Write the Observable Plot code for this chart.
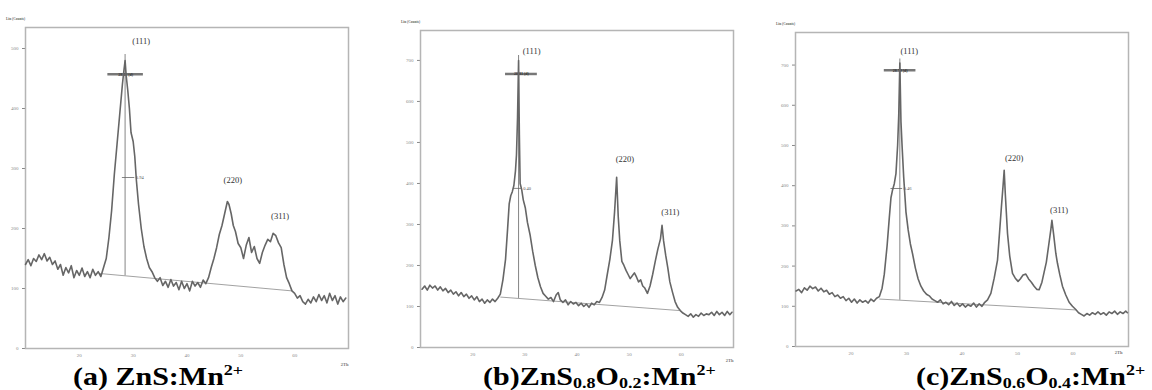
<!DOCTYPE html>
<html>
<head>
<meta charset="utf-8">
<script src="https://cdn.jsdelivr.net/npm/d3@7"></script>
<script src="https://cdn.jsdelivr.net/npm/@observablehq/plot@0.6"></script>
<style>
  html, body { margin: 0; padding: 0; background: #fff; }
  #fig { position: relative; width: 1152px; height: 390px; overflow: hidden; }
  .panel { position: absolute; top: 0; }
  .cap { position: absolute; font-family: "Liberation Serif", "Times New Roman", serif; font-weight: bold; font-size: 25px; color: #000; white-space: nowrap; line-height: 1; transform: scaleX(1.2); transform-origin: left top; }
  .cap sup { font-size: 15px; vertical-align: 10px; }
  .cap sub { font-size: 15px; vertical-align: -3px; }
</style>
</head>
<body>
<div id="fig"></div>
<script>
// ---- data: 2-theta (deg) vs intensity (counts) ----
const xrdA = [[10,140],[10.5,148],[11,138],[11.5,150],[12,145],[12.5,156],[13,148],[13.5,158],[14,146],[14.5,152],[15,140],[15.5,146],[16,132],[16.5,140],[17,122],[17.5,135],[18,126],[18.5,138],[19,118],[19.5,130],[20,122],[20.5,134],[21,120],[21.5,128],[22,118],[22.5,132],[23,122],[23.5,128],[24,120],[24.5,135],[25,150],[25.5,185],[26,230],[26.5,290],[27,340],[27.5,390],[27.8,420],[28,440],[28.3,465],[28.5,480],[28.7,455],[29,430],[29.3,400],[29.6,360],[30,345],[30.3,320],[30.6,280],[31,240],[31.5,200],[32,170],[32.5,150],[33,135],[33.5,128],[34,118],[34.5,112],[35,118],[35.5,105],[36,112],[36.5,102],[37,115],[37.5,104],[38,110],[38.5,98],[39,112],[39.5,100],[40,108],[40.5,96],[41,112],[41.5,104],[42,110],[42.5,102],[43,114],[43.5,108],[44,118],[44.5,135],[45,150],[45.5,168],[46,190],[46.5,205],[47,225],[47.5,245],[47.8,240],[48.2,225],[48.6,205],[49,195],[49.5,175],[50,168],[50.5,150],[51,172],[51.5,185],[52,160],[52.5,170],[53,150],[53.5,142],[54,160],[54.5,172],[55,182],[55.5,178],[56,192],[56.5,188],[57,176],[57.5,168],[58,140],[58.5,118],[59,108],[59.5,96],[60,92],[60.5,84],[61,88],[61.5,78],[62,74],[62.5,82],[63,76],[63.5,86],[64,78],[64.5,90],[65,80],[65.5,88],[66,76],[66.5,92],[67,80],[67.5,88],[68,74],[68.5,86],[69,78],[69.5,84]];
const xrdB = [[10.3,142],[10.8,150],[11.3,140],[11.8,152],[12.3,145],[12.8,150],[13.3,140],[13.8,148],[14.3,138],[14.8,144],[15.3,134],[15.8,140],[16.3,130],[16.8,136],[17.3,126],[17.8,134],[18.3,124],[18.8,130],[19.3,120],[19.8,126],[20.3,116],[20.8,124],[21.3,112],[21.8,118],[22.3,108],[22.8,116],[23.3,110],[23.8,118],[24.3,112],[24.8,120],[25.3,130],[25.8,165],[26.3,215],[26.7,290],[27,350],[27.3,370],[27.6,380],[27.9,395],[28.2,430],[28.4,470],[28.6,560],[28.8,700],[28.95,520],[29.1,400],[29.4,385],[29.7,360],[30.1,340],[30.5,305],[31,275],[31.5,235],[32,200],[32.5,170],[33,148],[33.5,132],[34,125],[34.5,118],[35,122],[35.5,112],[36,128],[36.4,134],[36.8,116],[37.3,110],[37.8,116],[38.3,104],[38.8,112],[39.3,106],[39.8,110],[40.3,102],[40.8,108],[41.3,100],[41.8,106],[42.3,98],[42.8,108],[43.3,104],[43.8,112],[44.3,110],[44.8,122],[45.3,140],[45.8,178],[46.3,215],[46.8,262],[47.2,330],[47.6,415],[47.9,320],[48.2,260],[48.6,210],[49,200],[49.4,188],[49.8,178],[50.2,168],[50.6,175],[51,182],[51.4,172],[51.8,160],[52.2,165],[52.6,150],[53,145],[53.5,132],[54,150],[54.5,178],[55,210],[55.5,240],[56,265],[56.3,298],[56.6,260],[57,225],[57.4,195],[57.8,160],[58.3,135],[58.8,112],[59.3,98],[59.8,90],[60.3,84],[60.8,80],[61.3,76],[61.8,82],[62.3,74],[62.8,80],[63.3,76],[63.8,84],[64.3,78],[64.8,82],[65.3,80],[65.8,86],[66.3,78],[66.8,88],[67.3,80],[67.8,86],[68.3,78],[68.8,88],[69.3,80],[69.7,86]];
const xrdC = [[10.1,138],[10.6,142],[11.1,134],[11.6,146],[12.1,140],[12.6,150],[13.1,144],[13.6,148],[14.1,138],[14.6,145],[15.1,136],[15.6,140],[16.1,130],[16.6,134],[17.1,124],[17.6,128],[18.1,120],[18.6,124],[19.1,114],[19.6,120],[20.1,110],[20.6,118],[21.1,108],[21.6,116],[22.1,110],[22.6,114],[23.1,108],[23.6,118],[24.1,112],[24.6,120],[25.1,124],[25.6,145],[26,180],[26.5,250],[26.9,320],[27.2,370],[27.5,390],[27.8,405],[28.1,430],[28.4,500],[28.6,575],[28.8,705],[29,560],[29.2,500],[29.5,420],[29.9,335],[30.3,290],[30.7,255],[31.1,230],[31.6,195],[32.1,168],[32.6,150],[33.1,138],[33.6,130],[34.1,126],[34.6,118],[35.1,114],[35.6,110],[36.1,116],[36.6,106],[37.1,110],[37.6,104],[38.1,112],[38.6,102],[39.1,108],[39.6,100],[40.1,106],[40.6,98],[41.1,104],[41.6,100],[42.1,108],[42.6,98],[43.1,106],[43.6,100],[44.1,110],[44.6,116],[45.2,132],[45.8,170],[46.4,215],[46.8,290],[47.1,347],[47.4,400],[47.6,438],[47.8,380],[48.2,281],[48.6,225],[49.1,182],[49.6,170],[50.1,162],[50.5,168],[51,178],[51.5,180],[52,168],[52.5,160],[53,150],[53.5,142],[53.9,141],[54.4,160],[54.8,185],[55.2,210],[55.6,250],[56,290],[56.2,314],[56.5,280],[56.9,232],[57.2,207],[57.6,180],[58.1,150],[58.7,128],[59.3,110],[59.9,100],[60.5,92],[61,84],[61.5,80],[62,76],[62.5,82],[63,78],[63.5,84],[64,80],[64.5,86],[65,80],[65.5,84],[66,78],[66.5,86],[67,82],[67.5,88],[68,80],[68.5,86],[69,82],[69.5,88],[69.8,84]];

// background lines [x1, y1, x2, y2]
const baseA = [23.8, 125, 59.5, 96];
const baseB = [25.3, 123, 59.7, 90];
const baseC = [25.1, 118, 60.5, 91];

// main peak marker: [2theta, top, crossbar y, crossbar x1, x2, fwhm y, fwhm x1, x2]
const markA = [28.5, 490, 457, 25.3, 31.9, 285, 28.0, 30.3];
const markB = [28.8, 712, 667, 26.3, 32.4, 388, 27.8, 29.5];
const markC = [28.8, 715, 687, 26.0, 31.7, 393, 27.2, 29.3];
const crossText = ["28.53 (d)", "28.81 (d)", "28.79 (d)"];
const fwhmText = ["0.94", "0.40", "0.46"];

// peak labels [x, y]
const hkl = ["(111)", "(220)", "(311)"];
const lblA = [[31.5, 512], [48.5, 280], [57.3, 220]];
const lblB = [[31.3, 722], [49.2, 458], [57.9, 330]];
const lblC = [[30.5, 735], [49.4, 468], [57.5, 338]];

const yTicksA = [0, 100, 200, 300, 400, 500];
const yTicksB = [0, 100, 200, 300, 400, 500, 600, 700];
const xTicks = [20, 30, 40, 50, 60];

const panels = [
  {data: xrdA, base: baseA, mark: markA, lbl: lblA, yTicks: yTicksA, yMax: 535, left: 0, ml: 25, mr: 36, mt: 27, mb: 42, i: 0, thDx: -4, thDy: 17},
  {data: xrdB, base: baseB, mark: markB, lbl: lblB, yTicks: yTicksB, yMax: 773, left: 384, ml: 36, mr: 35, mt: 30, mb: 43, i: 1, thDx: -4, thDy: 14},
  {data: xrdC, base: baseC, mark: markC, lbl: lblC, yTicks: yTicksB, yMax: 781, left: 768, ml: 27, mr: 24, mt: 32, mb: 44, i: 2, thDx: -10, thDy: 7}
];

const fig = document.getElementById("fig");
for (const p of panels) {
  const [bx1, by1, bx2, by2] = p.base;
  const [px, ptop, cy, cx1, cx2, fy, fx1, fx2] = p.mark;
  const baseAt = by1 + (by2 - by1) * (px - bx1) / (bx2 - bx1);
  const chart = Plot.plot({
    width: 384, height: 390,
    marginLeft: p.ml, marginRight: p.mr, marginTop: p.mt, marginBottom: p.mb,
    style: {fontFamily: "Liberation Serif, serif", fontSize: "5px", color: "#888", background: "transparent"},
    x: {domain: [10, 70], ticks: xTicks, tickSize: 0, tickPadding: 5, label: null},
    y: {domain: [0, p.yMax], ticks: p.yTicks, tickSize: 3, tickPadding: 4, label: null},
    marks: [
      Plot.frame({stroke: "#b5b5b5", strokeWidth: 1.5}),
      Plot.link([p.base], {x1: d => d[0], y1: d => d[1], x2: d => d[2], y2: d => d[3], stroke: "#8a8a8a", strokeWidth: 0.8}),
      Plot.ruleX([px], {y1: baseAt, y2: ptop, stroke: "#666", strokeWidth: 0.8}),
      Plot.ruleY([cy], {x1: cx1, x2: cx2, stroke: "#777", strokeWidth: 2.5}),
      Plot.text([crossText[p.i]], {x: (cx1 + cx2) / 2, y: cy, fontSize: 4, fill: "#333", fontWeight: "bold"}),
      Plot.ruleY([fy], {x1: fx1, x2: fx2, stroke: "#666", strokeWidth: 0.8}),
      Plot.text([fwhmText[p.i]], {x: fx2, y: fy, dx: 1, textAnchor: "start", fontSize: 4.5, fill: "#555"}),
      Plot.line(p.data, {x: d => d[0], y: d => d[1], stroke: "#666", strokeWidth: 1.6, strokeLinejoin: "round"}),
      Plot.text(p.lbl, {x: d => d[0], y: d => d[1], text: (d, i) => hkl[i], fontSize: 8.5, fill: "#333", fontFamily: "Liberation Serif, serif"}),
      Plot.text(["Lin (Counts)"], {frameAnchor: "top-left", dx: -10, dy: -10, textAnchor: "middle", fontSize: 3.5, fill: "#666", fontWeight: "bold"}),
      Plot.text(["2Th"], {frameAnchor: "bottom-right", dx: p.thDx, dy: p.thDy, textAnchor: "middle", fontSize: 4.5, fill: "#777", fontWeight: "bold"})
    ]
  });
  chart.classList.add("panel");
  chart.style.left = p.left + "px";
  fig.appendChild(chart);
}

const caps = [
  {html: "(a) ZnS:Mn<sup>2+</sup>", left: 73},
  {html: "(b)ZnS<sub>0.8</sub>O<sub>0.2</sub>:Mn<sup>2+</sup>", left: 483},
  {html: "(c)ZnS<sub>0.6</sub>O<sub>0.4</sub>:Mn<sup>2+</sup>", left: 916}
];
for (const c of caps) {
  const d = document.createElement("div");
  d.className = "cap";
  d.innerHTML = c.html;
  d.style.left = c.left + "px";
  d.style.top = "363px";
  fig.appendChild(d);
}
</script>
</body>
</html>
